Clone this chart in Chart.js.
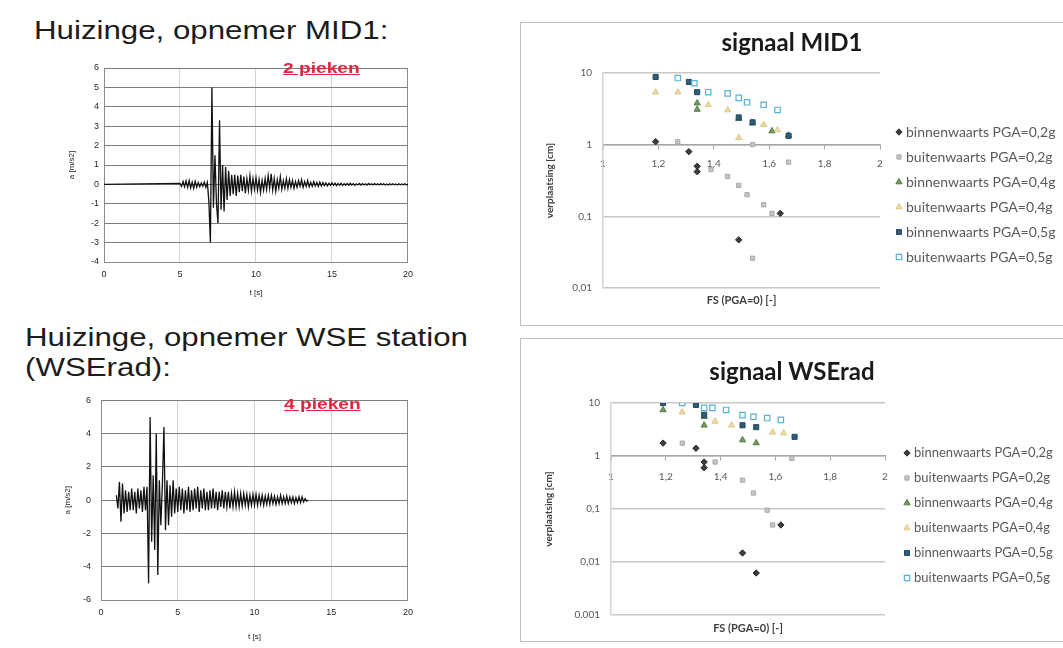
<!DOCTYPE html>
<html lang="nl">
<head>
<meta charset="utf-8">
<title>Huizinge - versnellingen en verplaatsingen</title>
<script src="https://cdn.jsdelivr.net/npm/chart.js@4.4.1/dist/chart.umd.min.js"></script>
<style>
  body { margin: 0; width: 1063px; height: 648px; background: #fff; position: relative; overflow: hidden;
         font-family: "Liberation Sans", Arial, sans-serif; }
  .kop { position: absolute; font-size: 25px; line-height: 30px; color: #1c1c1c; white-space: nowrap;
         transform: scaleX(1.25); transform-origin: 0 0; }
  .piek { position: absolute; font-size: 14px; line-height: 16px; font-weight: bold; color: #e2243f;
          text-decoration: underline; white-space: nowrap; transform: scaleX(1.37); transform-origin: 0 0; }
  .kader { position: absolute; border: 1px solid #c2c2c2; }
  canvas { position: absolute; }
</style>
</head>
<body>
<div class="kop" style="left:34px; top:15px;">Huizinge, opnemer MID1:</div>
<div class="kop" style="left:25px; top:322px;">Huizinge, opnemer WSE station<br>(WSErad):</div>

<canvas id="mid1Trace" width="360" height="245" style="left:60px; top:55px;"></canvas>
<canvas id="wseTrace" width="360" height="260" style="left:60px; top:385px;"></canvas>
<div class="piek" style="left:283px; top:60px;">2 pieken</div>
<div class="piek" style="left:284px; top:396px;">4 pieken</div>

<div class="kader" style="left:520px; top:22px; width:560px; height:302px;"></div>
<div class="kader" style="left:520px; top:338px; width:560px; height:302px;"></div>
<canvas id="mid1Scatter" width="542" height="302" style="left:521px; top:23px;"></canvas>
<canvas id="wseScatter" width="542" height="302" style="left:521px; top:339px;"></canvas>

<script>
// ---- versnellingssignalen, a [m/s2] per 0,1 s ----
const sampleStep = 0.1;
const timeTicks = [0, 5, 10, 15, 20];

// MID1: rustig tot 5 s, daarna per seconde 10 waarden
const mid1Start = 5.0;
const mid1Acc = [
  0.05, -0.1, 0.15, -0.12, 0.18, -0.15, 0.2, -0.18, 0.12, -0.2,
  0.16, -0.14, 0.1, -0.12, 0.08, -0.1, 0.12, -0.15, 0.1, -0.9,
  -3.0, 5.0, -1.2, 1.5, -1.0, -2.0, 3.3, -1.3, 1.0, -1.4,
  0.9, -0.8, 0.7, -0.6, 0.5, -0.5, 0.5, -0.6, 0.45, -0.4,
  0.5, -0.35, 0.4, -0.45, 0.3, -0.3, 0.45, -0.35, 0.3, -0.25,
  0.35, -0.3, 0.25, -0.4, 0.2, -0.3, 0.3, -0.25, 0.45, -0.2,
  0.55, -0.3, 0.3, -0.35, 0.25, -0.2, 0.4, -0.25, 0.2, -0.2,
  0.3, -0.2, 0.25, -0.15, 0.2, -0.2, 0.15, -0.15, 0.2, -0.1,
  0.25, -0.15, 0.15, -0.1, 0.2, -0.12, 0.1, -0.1, 0.15, -0.08,
  0.1, -0.1, 0.12, -0.08, 0.1, -0.06, 0.08, -0.08, 0.06, -0.05,
  0.08, -0.05, 0.06, -0.06, 0.05, -0.04, 0.06, -0.05, 0.04, -0.04,
  0.05, -0.04, 0.06, -0.03, 0.04, -0.05, 0.03, -0.03, 0.05, -0.03,
  0.04, -0.03, 0.03, -0.04, 0.05, -0.02, 0.03, -0.03, 0.04, -0.02,
  0.03, -0.03, 0.04, -0.02, 0.03, -0.03, 0.02, -0.03, 0.03, -0.02,
  0.03, -0.02, 0.02, -0.03, 0.03, -0.02, 0.02, -0.02, 0.03, -0.02,
  0
];
const mid1AccTicks = [-4, -3, -2, -1, 0, 1, 2, 3, 4, 5, 6];

// WSErad: begint bij 1,0 s en loopt tot 13,5 s
const wseStart = 1.0;
const wseAcc = [
  0.3, -0.5, 1.1, -1.3, 1.0, -0.8, 0.6, -0.7, 0.5, -0.6,
  0.7, -0.6, 0.5, -0.8, 0.7, -0.5, 0.6, -0.7, 0.8, -0.6,
  0.8, -5.0, 5.0, -2.5, 1.5, -3.0, 4.0, -4.5, 1.2, -1.5,
  1.0, 4.4, -1.8, 1.2, -1.5, 0.9, -1.0, 1.2, -0.8, 0.7,
  -0.7, 0.8, -0.6, 0.7, -0.8, 0.6, -0.6, 0.8, -0.7, 0.6,
  -0.6, 0.7, -0.5, 0.8, -0.7, 0.6, -0.5, 0.7, -0.6, 0.5,
  -0.6, 0.6, -0.5, 0.7, -0.5, 0.5, -0.6, 0.5, -0.4, 0.6,
  -0.5, 0.5, -0.4, 0.5, -0.5, 0.4, -0.4, 0.5, -0.4, 0.4,
  -0.4, 0.4, -0.35, 0.4, -0.3, 0.35, -0.4, 0.3, -0.3, 0.35,
  -0.3, 0.35, -0.3, 0.3, -0.25, 0.3, -0.3, 0.25, -0.25, 0.3,
  -0.25, 0.3, -0.2, 0.25, -0.25, 0.2, -0.2, 0.3, -0.2, 0.2,
  -0.2, 0.25, -0.2, 0.2, -0.15, 0.2, -0.2, 0.15, -0.15, 0.2,
  -0.15, 0.2, -0.1, 0.1, -0.05, 0
];
const wseAccTicks = [-6, -4, -2, 0, 2, 4, 6];

// ---- verplaatsing [cm] tegen FS (PGA=0) ----
const seriesNames = [
  'binnenwaarts PGA=0,2g', 'buitenwaarts PGA=0,2g',
  'binnenwaarts PGA=0,4g', 'buitenwaarts PGA=0,4g',
  'binnenwaarts PGA=0,5g', 'buitenwaarts PGA=0,5g'
];
const fsTicks = [1, 1.2, 1.4, 1.6, 1.8, 2];
const fsTickLabels = ['1', '1,2', '1,4', '1,6', '1,8', '2'];

const mid1UTicks = [0.01, 0.1, 1, 10];
const mid1UTickLabels = ['0,01', '0,1', '1', '10'];
const mid1Binnen02 = [[1.19, 1.1], [1.31, 0.8], [1.34, 0.5], [1.34, 0.42], [1.49, 0.047], [1.64, 0.11]];
const mid1Buiten02 = [[1.27, 1.1], [1.39, 0.45], [1.45, 0.36], [1.49, 0.27], [1.52, 0.2], [1.58, 0.145],
                      [1.61, 0.11], [1.54, 0.026], [1.54, 1.0], [1.67, 0.57]];
const mid1Binnen04 = [[1.34, 3.8], [1.34, 3.1], [1.49, 2.3], [1.54, 2.0], [1.61, 1.55], [1.67, 1.35]];
const mid1Buiten04 = [[1.19, 5.4], [1.27, 5.4], [1.38, 3.6], [1.45, 3.05], [1.58, 1.9], [1.63, 1.6], [1.49, 1.25]];
const mid1Binnen05 = [[1.19, 8.8], [1.31, 7.5], [1.34, 5.4], [1.49, 2.4], [1.54, 2.05], [1.67, 1.33]];
const mid1Buiten05 = [[1.27, 8.5], [1.33, 7.2], [1.38, 5.4], [1.45, 5.2], [1.49, 4.5], [1.52, 3.9],
                      [1.58, 3.6], [1.63, 3.05]];

const wseUTicks = [0.001, 0.01, 0.1, 1, 10];
const wseUTickLabels = ['0.001', '0,01', '0,1', '1', '10'];
const wseBinnen02 = [[1.19, 1.75], [1.31, 1.4], [1.34, 0.77], [1.34, 0.6], [1.48, 0.0148], [1.53, 0.0062], [1.62, 0.05]];
const wseBuiten02 = [[1.26, 1.75], [1.38, 0.77], [1.48, 0.35], [1.52, 0.2], [1.57, 0.095], [1.59, 0.05], [1.66, 0.9]];
const wseBinnen04 = [[1.19, 7.4], [1.34, 5.5], [1.34, 3.8], [1.48, 2.0], [1.53, 1.76]];
const wseBuiten04 = [[1.26, 6.7], [1.38, 4.5], [1.44, 3.8], [1.59, 2.8], [1.63, 2.7]];
const wseBinnen05 = [[1.19, 10], [1.31, 9.2], [1.34, 6.0], [1.48, 3.8], [1.53, 3.5], [1.67, 2.3]];
const wseBuiten05 = [[1.26, 10], [1.34, 8.1], [1.37, 8.1], [1.42, 7.4], [1.48, 5.9], [1.52, 5.5],
                     [1.57, 5.2], [1.62, 4.8]];

// ---- opmaak ----
const markerStyles = [
  { pointStyle: 'rectRot', pointRadius: 3.2, backgroundColor: '#3d3d3d', borderColor: '#2a2a2a', borderWidth: 1 },
  { pointStyle: 'rect', pointRadius: 3, backgroundColor: '#c6c6c6', borderColor: '#a9a9a9', borderWidth: 1 },
  { pointStyle: 'triangle', pointRadius: 3.6, backgroundColor: '#6f9a5e', borderColor: '#557d49', borderWidth: 1 },
  { pointStyle: 'triangle', pointRadius: 3.6, backgroundColor: '#ecdca4', borderColor: '#dbc98a', borderWidth: 1 },
  { pointStyle: 'rect', pointRadius: 3.6, backgroundColor: '#2e5d78', borderColor: '#24495f', borderWidth: 1 },
  { pointStyle: 'rect', pointRadius: 3.8, backgroundColor: 'rgba(255,255,255,0.6)', borderColor: '#58b2d4', borderWidth: 1.2 }
];

const traceFont = { family: '"Liberation Sans", Arial, sans-serif', size: 9 };
const sheetFont = 'Lato, "Open Sans", sans-serif';

function samples(start, values) {
  return values.map((a, i) => ({ x: +(start + i * sampleStep).toFixed(2), y: a }));
}

function makeTrace(id, data, yTicks, box) {
  new Chart(document.getElementById(id), {
    type: 'line',
    data: { datasets: [{ data, borderColor: '#111', borderWidth: 1.3, pointRadius: 0, tension: 0 }] },
    options: {
      responsive: false, animation: false, devicePixelRatio: 1,
      layout: { padding: { left: 0, right: box.right, top: box.top, bottom: 0 } },
      plugins: { legend: { display: false }, tooltip: { enabled: false } },
      scales: {
        x: {
          type: 'linear', min: 0, max: 20,
          afterBuildTicks: s => { s.ticks = timeTicks.map(v => ({ value: v })); },
          afterFit: s => { s.height = box.xHeight; },
          ticks: { font: traceFont, color: '#262626', padding: 7, autoSkip: false, maxRotation: 0 },
          grid: { drawTicks: false, color: c => (c.tick && c.tick.value === 20 ? '#8a8a8a' : '#d2d2d2') },
          border: { color: '#8a8a8a' },
          title: { display: true, text: 't [s]', font: { ...traceFont, size: 8 }, color: '#262626',
                   padding: { top: 0, bottom: box.xTitlePad } }
        },
        y: {
          type: 'linear', min: yTicks[0], max: yTicks[yTicks.length - 1],
          afterBuildTicks: s => { s.ticks = yTicks.map(v => ({ value: v })); },
          afterFit: s => { s.width = box.yWidth; },
          ticks: { font: traceFont, color: '#262626', padding: box.yTickPad, autoSkip: false },
          grid: { drawTicks: false, color: '#7c7c7c' },
          border: { color: '#8a8a8a' },
          title: { display: true, text: 'a [m/s2]', font: { ...traceFont, size: 8 }, color: '#262626',
                   padding: { top: box.yTitlePad, bottom: 0 } }
        }
      }
    }
  });
}

// legenda rechts naast het diagram, vaste regelafstand
const sideLegend = {
  id: 'sideLegend',
  afterDraw(chart, args, opts) {
    const { ctx } = chart;
    const drawPoint = Chart.helpers && Chart.helpers.drawPoint;
    ctx.save();
    chart.data.datasets.forEach((ds, i) => {
      const y = opts.top + i * opts.gap;
      ctx.fillStyle = ds.backgroundColor;
      ctx.strokeStyle = ds.borderColor;
      ctx.lineWidth = ds.borderWidth;
      if (drawPoint) {
        drawPoint(ctx, { pointStyle: ds.pointStyle, radius: ds.pointRadius, rotation: 0, borderWidth: ds.borderWidth },
                  opts.markerX, y);
      } else {
        ctx.fillRect(opts.markerX - 3, y - 3, 6, 6);
      }
      ctx.fillStyle = '#595959';
      ctx.font = opts.fontSize + 'px ' + sheetFont;
      ctx.textBaseline = 'middle';
      ctx.fillText(ds.label, opts.textX, y);
    });
    ctx.restore();
  }
};

function makeScatter(id, title, series, uTicks, uTickLabels, box) {
  const datasets = series.map((pts, i) => ({
    label: seriesNames[i],
    data: pts.map(([x, y]) => ({ x, y })),
    ...markerStyles[i],
    order: series.length - i
  }));
  new Chart(document.getElementById(id), {
    type: 'scatter',
    data: { datasets },
    options: {
      responsive: false, animation: false, devicePixelRatio: 1,
      plugins: {
        legend: { display: false }, tooltip: { enabled: false },
        title: { display: true, text: title, color: '#1a1a1a',
                 font: { family: sheetFont, size: 24, weight: 'bold' },
                 padding: { top: box.titleTop, bottom: box.titleBottom } },
        subtitle: { display: true, position: 'bottom', fullSize: false, text: 'FS (PGA=0) [-]', color: '#404040',
                    font: { family: sheetFont, size: 11, weight: 'bold' },
                    padding: { top: box.subTop, bottom: box.subBottom } },
        sideLegend: { markerX: box.markerX, textX: box.textX, top: box.legendTop, gap: 25, fontSize: box.legendFont }
      },
      scales: {
        x: {
          type: 'linear', position: { y: 1 }, min: 1, max: 2,
          afterBuildTicks: s => { s.ticks = fsTicks.map(v => ({ value: v })); },
          ticks: { callback: (v, i) => fsTickLabels[i], font: { family: sheetFont, size: 10 }, color: '#595959',
                   padding: box.xTickPad, autoSkip: false, maxRotation: 0 },
          grid: { drawOnChartArea: false, drawTicks: true, tickLength: 4, color: '#a6a6a6' },
          border: { color: '#a6a6a6', width: 1.5 }
        },
        y: {
          type: 'logarithmic', min: uTicks[0], max: uTicks[uTicks.length - 1],
          afterBuildTicks: s => { s.ticks = uTicks.map(v => ({ value: v })); },
          afterFit: s => { s.width = box.yWidth; },
          ticks: { callback: (v, i) => uTickLabels[i], font: { family: sheetFont, size: 10 }, color: '#595959',
                   padding: 11, autoSkip: false },
          grid: { drawTicks: false, color: '#c8c8c8', lineWidth: 1.5 },
          border: { color: '#d4d4d4', width: 1.5 },
          title: { display: true, text: 'verplaatsing [cm]', color: '#404040',
                   font: { family: sheetFont, size: 10, weight: 'bold' }, padding: { top: box.yTitlePad, bottom: 0 } }
        },
        // lege as rechts: ruimte voor de legenda, titel blijft over de hele breedte gecentreerd
        legendRoom: {
          type: 'linear', position: 'right', display: true,
          afterFit: s => { s.width = box.legendWidth; },
          ticks: { display: false }, grid: { display: false }, border: { display: false }
        }
      }
    },
    plugins: [sideLegend]
  });
}

makeTrace('mid1Trace', [{ x: 0, y: 0 }].concat(samples(mid1Start, mid1Acc)), mid1AccTicks,
  { right: 12, top: 13, xHeight: 38, yWidth: 44, yTickPad: 5, yTitlePad: 7.2, xTitlePad: 2.2 });
makeTrace('wseTrace', samples(wseStart, wseAcc), wseAccTicks,
  { right: 7, top: 13, xHeight: 45, yWidth: 41, yTickPad: 10, yTitlePad: 3.2, xTitlePad: 3.2 });

makeScatter('mid1Scatter', 'signaal MID1',
  [mid1Binnen02, mid1Buiten02, mid1Binnen04, mid1Buiten04, mid1Binnen05, mid1Buiten05],
  mid1UTicks, mid1UTickLabels,
  { legendWidth: 183, yWidth: 82, yTitlePad: 23, titleTop: 5.6, titleBottom: 15.6, subTop: 5.4, subBottom: 18.4,
    xTickPad: 9, markerX: 378, textX: 385, legendTop: 109, legendFont: 14 });
makeScatter('wseScatter', 'signaal WSErad',
  [wseBinnen02, wseBuiten02, wseBinnen04, wseBuiten04, wseBinnen05, wseBuiten05],
  wseUTicks, wseUTickLabels,
  { legendWidth: 178, yWidth: 90, yTitlePad: 22, titleTop: 18.6, titleBottom: 16.6, subTop: 6.4, subBottom: 6.4,
    xTickPad: 11, markerX: 386, textX: 393, legendTop: 114, legendFont: 13 });
</script>
</body>
</html>
